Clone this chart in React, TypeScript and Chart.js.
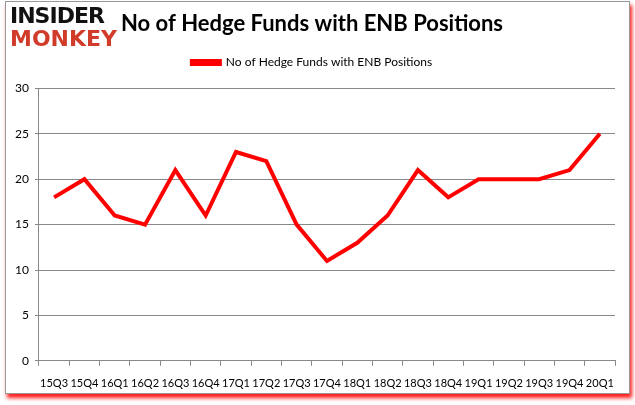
import React, { useEffect, useRef } from "react";
import { Chart, registerables } from "chart.js";

Chart.register(...registerables);

const quarters = ["15Q3","15Q4","16Q1","16Q2","16Q3","16Q4","17Q1","17Q2","17Q3","17Q4","18Q1","18Q2","18Q3","18Q4","19Q1","19Q2","19Q3","19Q4","20Q1"];
const hedgeFunds = [18,20,16,15,21,16,23,22,15,11,13,16,21,18,20,20,20,21,25];
const seriesName = "No of Hedge Funds with ENB Positions";
const chartTitle = "No of Hedge Funds with ENB Positions";

const legendMargin = {
  id: "legendMargin",
  beforeInit(chart: any) {
    const orig = chart.legend.fit;
    chart.legend.fit = function () {
      orig.call(this);
      this.height += 10;
    };
  },
};

export default function App() {
  const ref = useRef<HTMLCanvasElement>(null);
  useEffect(() => {
    document.body.style.margin = "0";
    const chart = new Chart(ref.current!, {
      type: "line",
      data: {
        labels: quarters,
        datasets: [{
          label: seriesName,
          data: hedgeFunds,
          borderColor: "#ff0000",
          backgroundColor: "#ff0000",
          borderWidth: 4,
          pointRadius: 0,
          tension: 0,
        }],
      },
      plugins: [legendMargin],
      options: {
        animation: false,
        responsive: false,
        layout: { padding: { left: 9, right: 20, top: 8, bottom: 4 } },
        plugins: {
          title: {
            display: true,
            text: chartTitle,
            color: "#000",
            font: { family: "Lato", size: 22, weight: "bold" },
            padding: { top: 3, bottom: 11 },
          },
          legend: {
            display: true,
            labels: {
              color: "#000",
              font: { family: "Lato", size: 12 },
              boxWidth: 28,
              boxHeight: 3,
              padding: 8,
            },
          },
          tooltip: { enabled: false },
        },
        scales: {
          x: {
            offset: true,
            grid: { display: true, drawOnChartArea: false, drawTicks: true, tickLength: 5, color: "#888", offset: true },
            border: { color: "#888" },
            ticks: { color: "#000", font: { family: "Lato", size: 11 }, autoSkip: false, maxRotation: 0, padding: 11 },
          },
          y: {
            min: 0, max: 30,
            grid: { color: "#888", tickLength: 4, drawTicks: true },
            border: { color: "#888" },
            ticks: { stepSize: 5, color: "#000", font: { family: "Lato", size: 12 }, padding: 6 },
          },
        },
      },
    });
    return () => chart.destroy();
  }, []);
  return (
    <div style={{ position: "absolute", left: 0, top: 0, width: 635, height: 405, background: "#fff" }}>
      <div style={{ position: "absolute", left: 5, top: 1, width: 623, height: 391, border: "1px solid #999", boxShadow: "2px 4px 4px rgba(255,0,0,0.9)" }} />
      <canvas ref={ref} width={635} height={405} style={{ position: "absolute", left: 0, top: 0 }} />
      <div style={{ position: "absolute", left: 10, top: 5, fontFamily: "DejaVu Sans", fontWeight: 900, fontSize: 22, lineHeight: "22px", letterSpacing: -1, color: "#111" }}>INSIDER</div>
      <div style={{ position: "absolute", left: 10, top: 28, fontFamily: "DejaVu Sans", fontWeight: 900, fontSize: 22, lineHeight: "22px", color: "#d13b2a" }}>MONKEY</div>
    </div>
  );
}
